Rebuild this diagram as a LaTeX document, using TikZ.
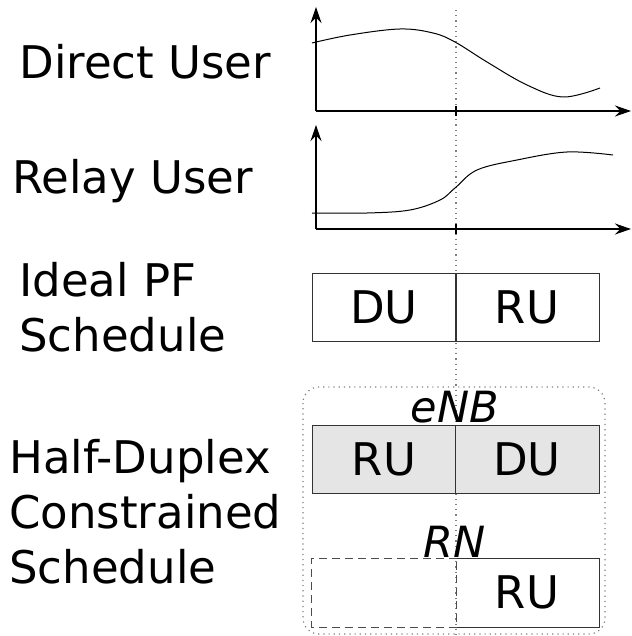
\documentclass[tikz,border=0pt]{standalone}
\usepackage{fontspec}
\setmainfont{DejaVu Sans}
\usetikzlibrary{arrows.meta}

\begin{document}
\begin{tikzpicture}[x=0.5pt,y=-0.5pt,
    rowlabel/.style={inner sep=0pt,anchor=base west,align=left,font=\fontsize{22.5}{27.5}\selectfont},
    slot/.style={draw=black!80,line width=0.5pt,minimum width=72pt,minimum height=34pt,inner sep=0pt,font=\fontsize{22.5}{27}\selectfont},
    axis/.style={line width=0.6pt,-{Stealth[length=8pt,width=5.5pt]}},
    nodename/.style={inner sep=0pt,anchor=base,font=\fontsize{21.5}{26}\selectfont\itshape}]

    \useasboundingbox (0,0) rectangle (631,636);

    % Row labels (base anchor sits on the last line)
    \node[rowlabel] (direct) at (19,79) {Direct User};
    \node[rowlabel] (relay) at (12,193) {Relay User};
    \node[rowlabel] (ideal) at (19,351) {Ideal PF\\Schedule};
    \node[rowlabel] (half) at (9,583) {Half-Duplex\\Constrained\\Schedule};

    \coordinate (split_top) at (456,10);
    \coordinate (split_bot) at (456,636);

    % Dotted split line
    \draw[dotted,gray,line width=0.6pt] (split_top) -- (split_bot);

    % Axes
    \coordinate (o1) at (316,111);
    \coordinate (o2) at (316,229);
    \draw[axis] (o1) -- (316,7);
    \draw[axis] (o1) -- (631,111);
    \draw[axis] (o2) -- (316,125);
    \draw[axis] (o2) -- (631,229);
    \draw[line width=0.6pt] (456,106) -- (456,116);
    \draw[line width=0.6pt] (456,224) -- (456,234);

    % Direct user channel
    \draw[line width=0.5pt] plot[smooth,tension=0.6] coordinates {(312,43) (350,35) (400,29) (433,33) (455,42) (487,62) (527,85) (563,97) (600,88)};
    % Relay user channel
    \draw[line width=0.5pt] plot[smooth,tension=0.6] coordinates {(312,213) (367,213) (410,210) (440,200) (455,188) (477,170) (517,160) (567,152) (613,155)};

    % Ideal PF schedule
    \node[slot] (pf_du) at (384,307) {DU};
    \node[slot] (pf_ru) at (527,307) {RU};

    % Half-duplex group
    \draw[dotted,gray,line width=0.6pt,rounded corners=8pt] (303,387) rectangle (605,634);

    \node[slot,fill=black!10] (enb_ru) at (384,459) {RU};
    \node[slot,fill=black!10] (enb_du) at (527,459) {DU};
    \node[nodename] (enb) at (455,422) {eNB};

    \node[slot,draw=none] (rn_idle) at (384,592.5) {};
    \node[slot,draw=none] (rn_ru) at (527,592.5) {RU};
    \draw[black!80,line width=0.5pt] (rn_ru.north west) -- (rn_ru.north east) -- (rn_ru.south east) -- (rn_ru.south west);
    \draw[black!70,line width=0.5pt,dash pattern=on 4pt off 2.5pt] (rn_idle.north east) -- (rn_idle.north west) -- (rn_idle.south west) -- (rn_idle.south east) -- cycle;
    \node[nodename] (rn) at (455,557) {RN};

\end{tikzpicture}
\end{document}
